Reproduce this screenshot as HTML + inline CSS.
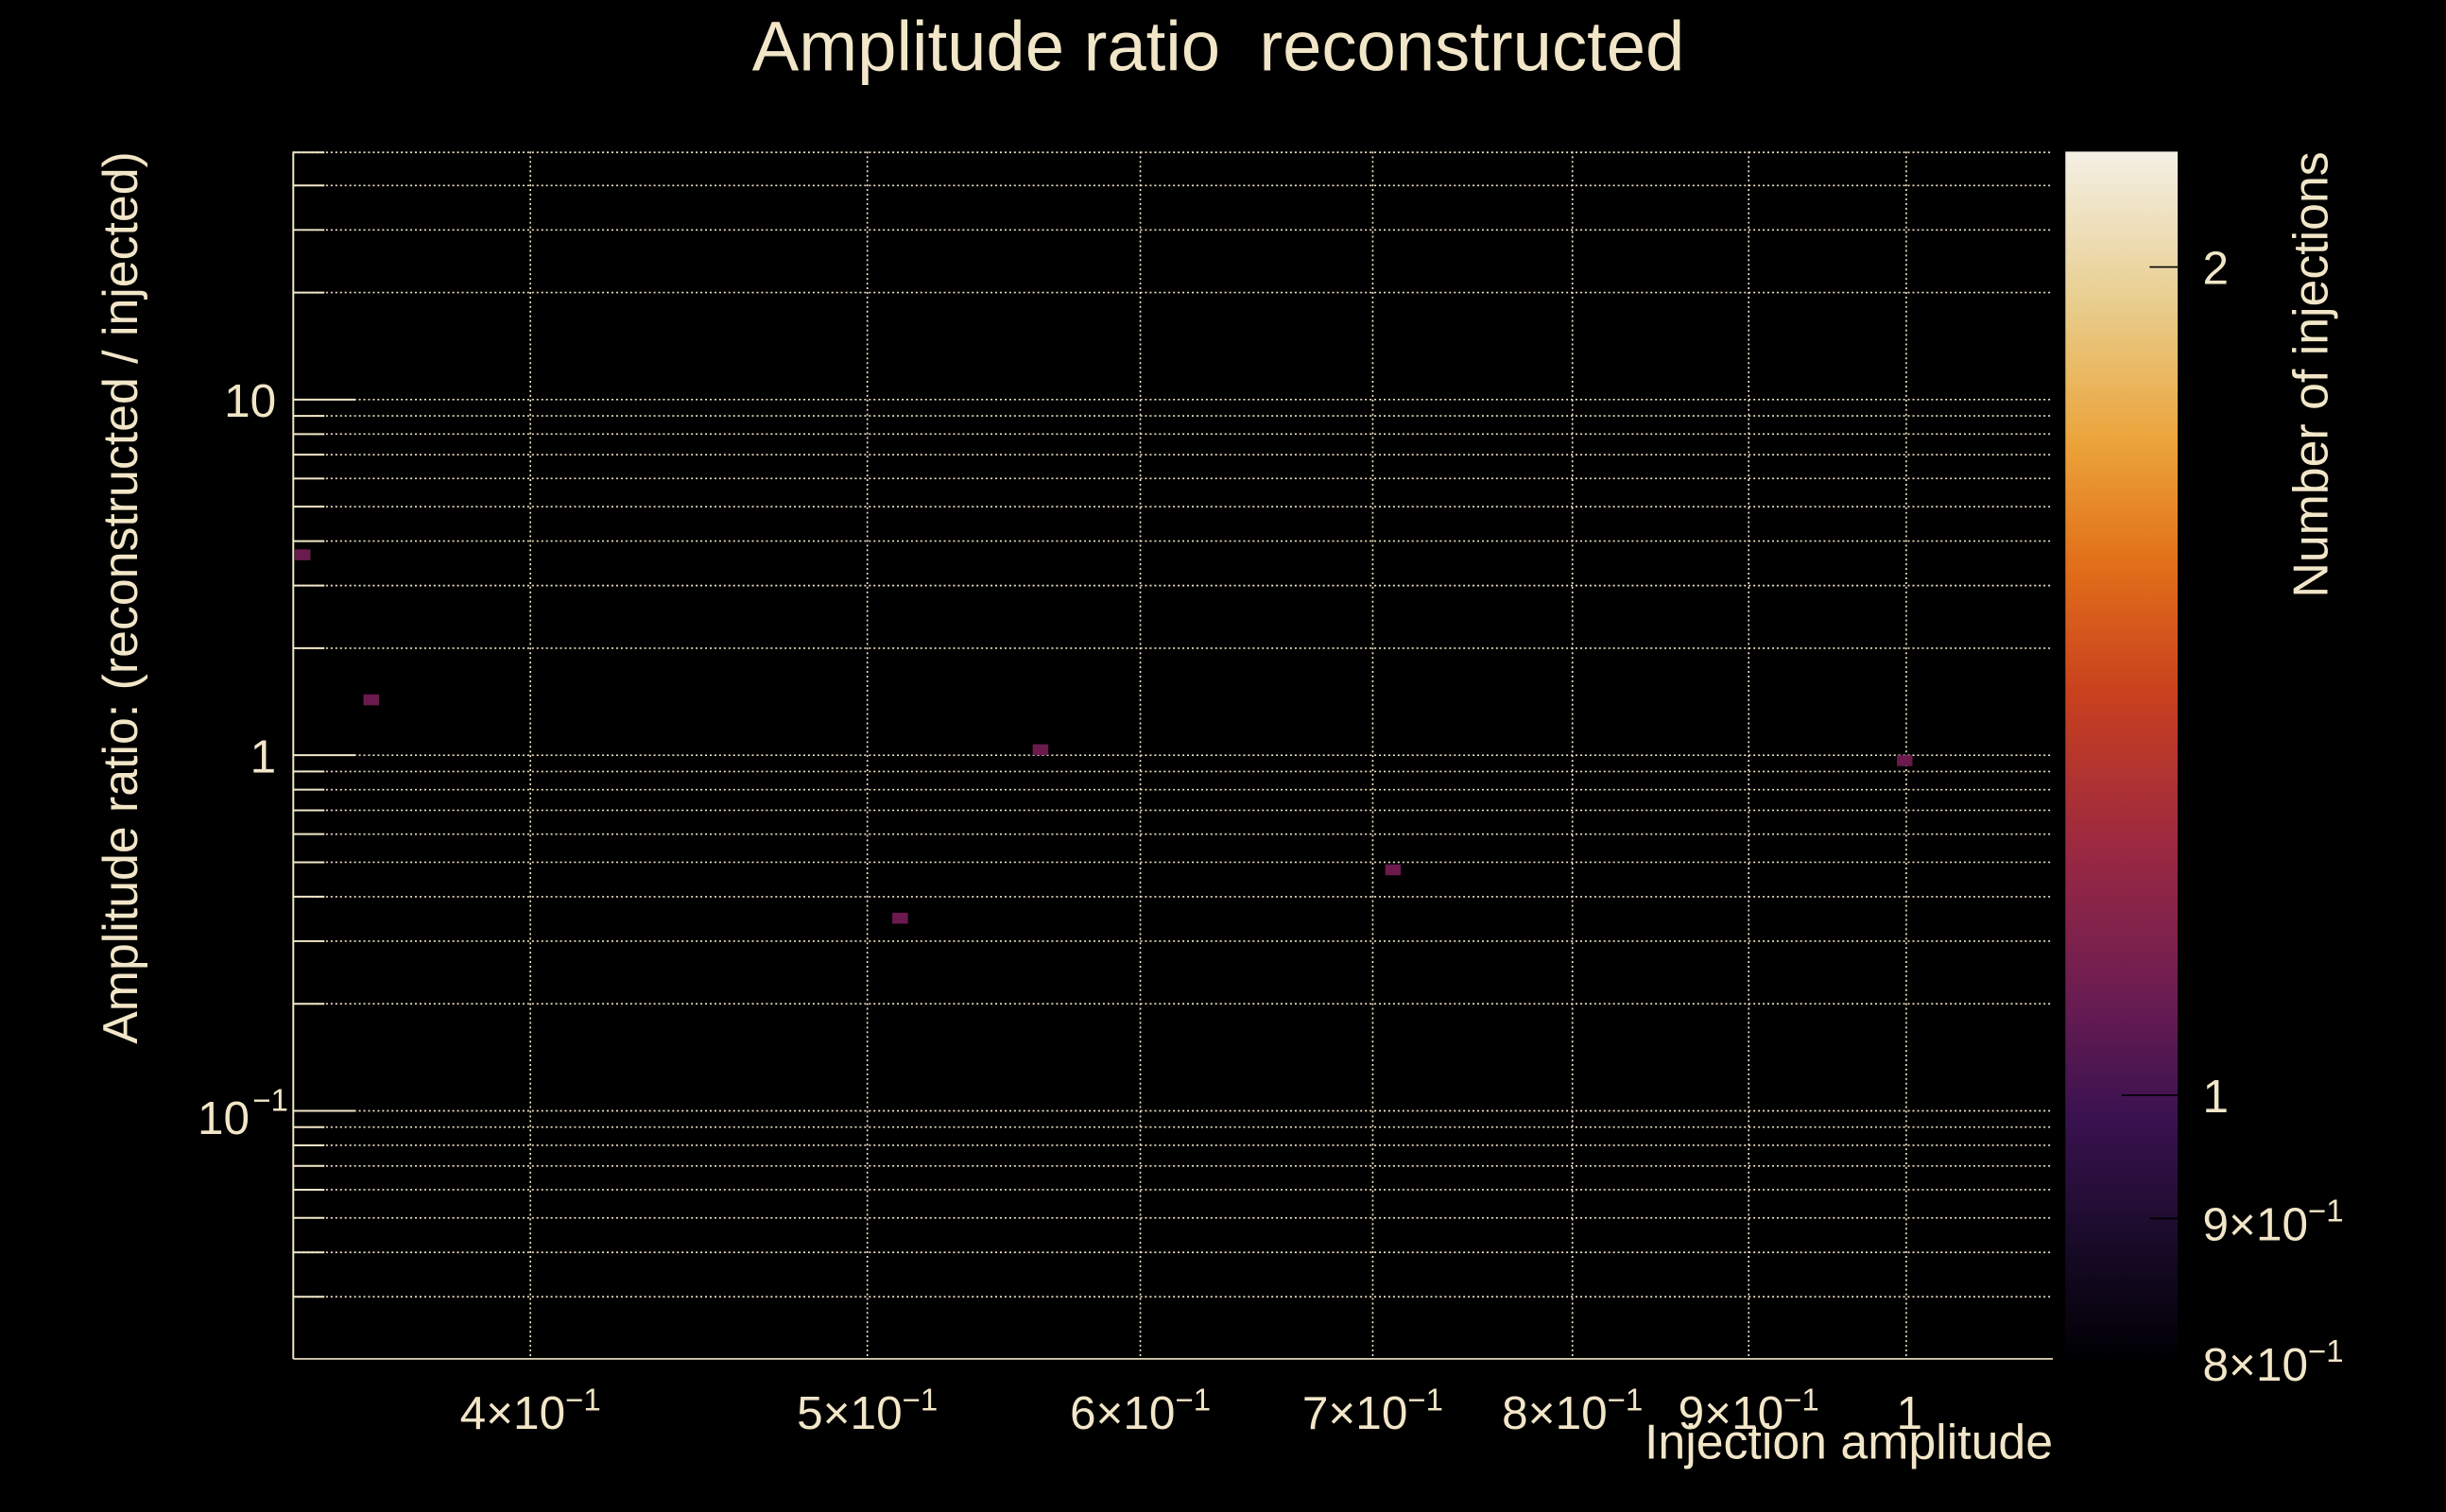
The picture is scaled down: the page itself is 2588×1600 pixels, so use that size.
<!DOCTYPE html>
<html><head><meta charset="utf-8"><style>
html,body{margin:0;padding:0;background:#000;}
svg{display:block;}
text{font-family:"Liberation Sans",sans-serif;fill:#f2e6c8;}
</style></head><body>
<svg id="s" width="2588" height="1600" viewBox="0 0 1568 969" xmlns="http://www.w3.org/2000/svg">
<defs>
<linearGradient id="cm" x1="0" y1="1" x2="0" y2="0">
<stop offset="0" stop-color="#000004"/>
<stop offset="0.1" stop-color="#1a0b2a"/>
<stop offset="0.2" stop-color="#3a1250"/>
<stop offset="0.3" stop-color="#6b1d52"/>
<stop offset="0.42" stop-color="#9a2842"/>
<stop offset="0.55" stop-color="#c8401e"/>
<stop offset="0.66" stop-color="#e2701a"/>
<stop offset="0.76" stop-color="#eba43a"/>
<stop offset="0.87" stop-color="#e8cc8a"/>
<stop offset="1" stop-color="#f4f0e6"/>
</linearGradient>
</defs>
<rect width="1568" height="969" fill="#000"/>
<g id="grid" stroke="#f2e6c8" stroke-width="1" stroke-dasharray="1.2,1.8"></g>
<g id="ticks" stroke="#f2e6c8" stroke-width="1.2"></g>
<line x1="188" y1="97" x2="188" y2="871" stroke="#f2e6c8" stroke-width="1.2"/>
<line x1="188" y1="871" x2="1316" y2="871" stroke="#f2e6c8" stroke-width="1"/>
<g fill="#6b1a4e">
<rect x="189" y="352" width="10" height="7"/>
<rect x="233" y="445" width="10" height="7"/>
<rect x="572" y="585" width="10" height="7"/>
<rect x="662" y="477" width="10" height="7"/>
<rect x="888" y="554" width="10" height="7"/>
<rect x="1216" y="484" width="10" height="7"/>
</g>
<rect x="1324" y="97" width="72" height="774" fill="url(#cm)"/>
<g stroke="#000" stroke-width="1">
<line x1="1378" y1="171" x2="1396" y2="171"/>
<line x1="1360" y1="702" x2="1396" y2="702"/>
<line x1="1378" y1="781" x2="1396" y2="781"/>
</g>
<text x="781" y="45" font-size="45" text-anchor="middle">Amplitude ratio&#160; reconstructed</text>
<text transform="translate(88,383) rotate(-90)" font-size="31.4" text-anchor="middle">Amplitude ratio: (reconstructed / injected)</text>
<text transform="translate(1492,240) rotate(-90)" font-size="31.4" text-anchor="middle">Number of injections</text>
<text x="1316" y="935" font-size="31.4" text-anchor="end">Injection amplitude</text>
<g font-size="30" text-anchor="end">
<text x="177" y="267">10</text>
<text x="177" y="495">1</text>
<text x="160" y="727">10</text><text x="162" y="712" font-size="20" text-anchor="start">−1</text>
</g>
<g font-size="30">
<text x="1412" y="182">2</text>
<text x="1412" y="713">1</text>
<text x="1412" y="795">9×10<tspan font-size="20" dy="-12">−1</tspan></text>
<text x="1412" y="885">8×10<tspan font-size="20" dy="-12">−1</tspan></text>
</g>
<g font-size="30" text-anchor="middle">
<text x="340" y="916">4×10<tspan font-size="20" dy="-12">−1</tspan></text>
<text x="556" y="916">5×10<tspan font-size="20" dy="-12">−1</tspan></text>
<text x="731" y="916">6×10<tspan font-size="20" dy="-12">−1</tspan></text>
<text x="880" y="916">7×10<tspan font-size="20" dy="-12">−1</tspan></text>
<text x="1008" y="916">8×10<tspan font-size="20" dy="-12">−1</tspan></text>
<text x="1121" y="916">9×10<tspan font-size="20" dy="-12">−1</tspan></text>
<text x="1224" y="916">1</text>
</g>
</svg>
<script>
var ns="http://www.w3.org/2000/svg",g=document.getElementById("grid"),t=document.getElementById("ticks");
function L(p,x1,y1,x2,y2){var l=document.createElementNS(ns,"line");l.setAttribute("x1",x1);l.setAttribute("y1",y1);l.setAttribute("x2",x2);l.setAttribute("y2",y2);p.appendChild(l);}
L(g,188,97.5,1316,97.5);L(t,188,97.5,208,97.5);
for(var k=-2;k<=1;k++)for(var m=1;m<=9;m++){var v=m*Math.pow(10,k);var y=484-228*Math.log10(v);if(y<97||y>871)continue;L(g,188,y,1316,y);L(t,188,y,m==1?228:208,y);}
[340,556,731,880,1008,1121,1222].forEach(function(x){L(g,x,97,x,871);});
</script>
</body></html>
